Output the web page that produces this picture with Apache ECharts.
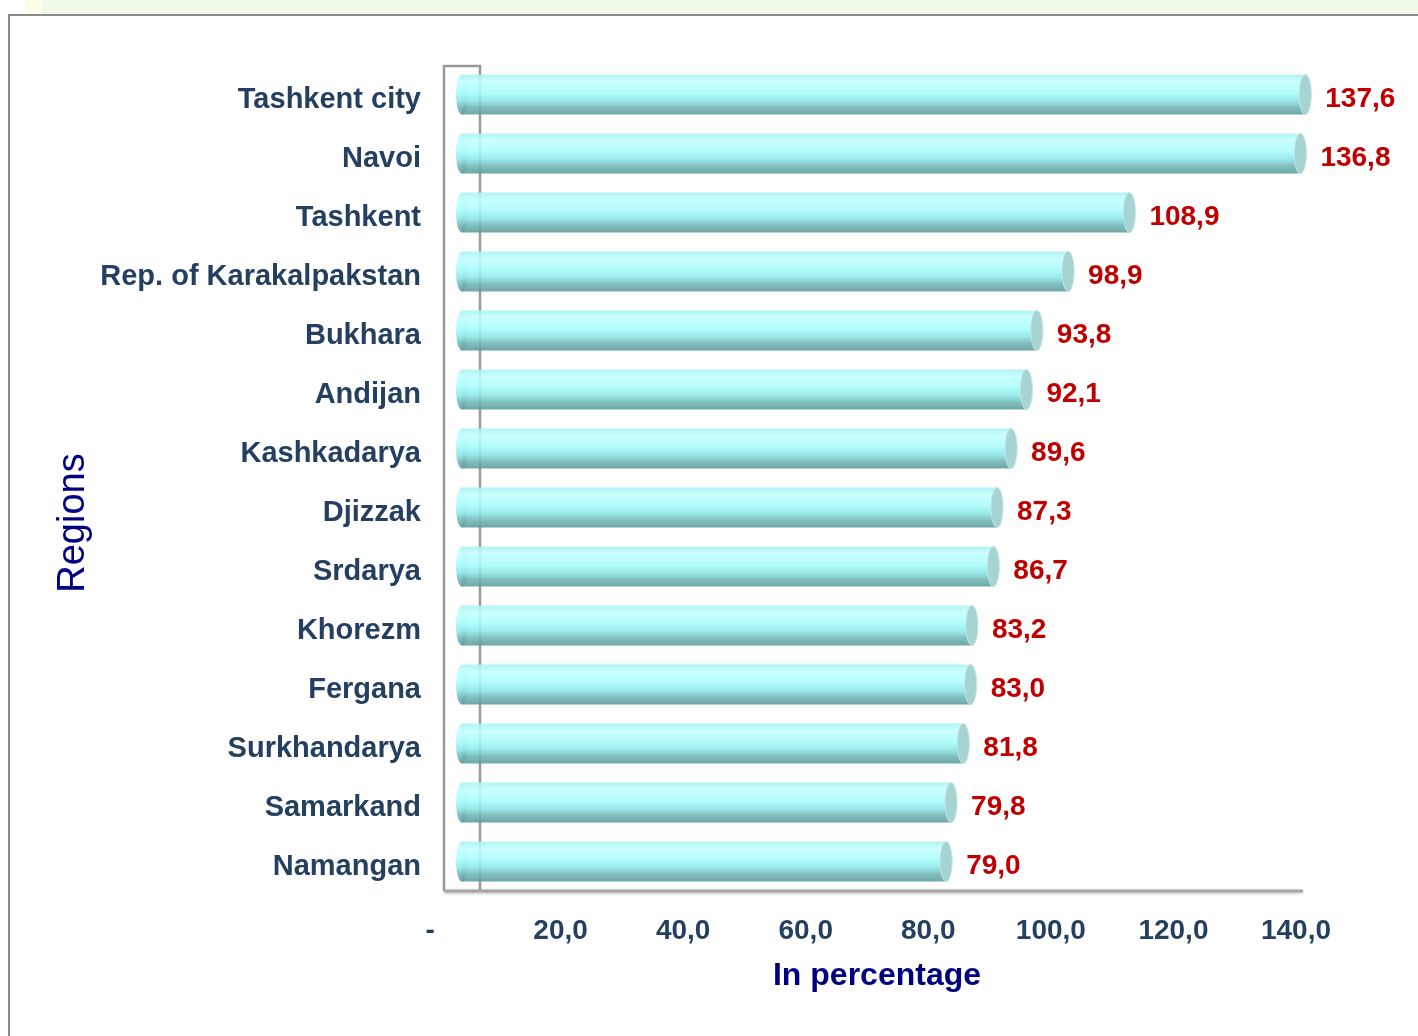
<!DOCTYPE html>
<html>
<head>
<meta charset="utf-8">
<script src="https://cdn.jsdelivr.net/npm/echarts@6/dist/echarts.min.js"></script>
<style>
  html, body { margin: 0; padding: 0; background: #fff; }
  #chart { width: 1418px; height: 1036px; }
</style>
</head>
<body>
<div id="chart"></div>
<script>
// data
const regions = [
  'Tashkent city', 'Navoi', 'Tashkent', 'Rep. of Karakalpakstan', 'Bukhara',
  'Andijan', 'Kashkadarya', 'Djizzak', 'Srdarya', 'Khorezm',
  'Fergana', 'Surkhandarya', 'Samarkand', 'Namangan'
]
const percents = [137.6, 136.8, 108.9, 98.9, 93.8, 92.1, 89.6, 87.3, 86.7, 83.2, 83.0, 81.8, 79.8, 79.0]
const xTicks = [0, 20, 40, 60, 80, 100, 120, 140]

const FONT = 'Arial, "Liberation Sans", sans-serif'
const fmt = v => v.toFixed(1).replace('.', ',')

function renderItem(params, api) {
  const idx = api.value(1)
  const val = api.value(0)
  const start = api.coord([0, idx])
  const end = api.coord([val, idx])
  const h = api.size([0, 1])[1] * 0.68
  const rx = 6
  const top = end[1] - h / 2
  const grad = () => new echarts.graphic.LinearGradient(0, 0, 0, 1, [
    { offset: 0, color: '#a8f2f2' },
    { offset: 0.18, color: '#c2ffff' },
    { offset: 0.45, color: '#a8fcfc' },
    { offset: 0.65, color: '#8ee6e6' },
    { offset: 0.82, color: '#70b6b6' },
    { offset: 1, color: '#5c9a9a' }
  ])
  return {
    type: 'group',
    children: [
      {
        type: 'ellipse',
        shape: { cx: start[0], cy: start[1], rx: rx, ry: h / 2 },
        style: { fill: grad(), opacity: 0.88 }
      },
      {
        type: 'rect',
        shape: { x: start[0], y: top, width: end[0] - start[0], height: h },
        style: { fill: grad(), opacity: 0.88 }
      },
      {
        type: 'ellipse',
        shape: { cx: end[0], cy: end[1], rx: rx, ry: h / 2 },
        style: { fill: '#a8d3d3', stroke: '#c4e4e4', lineWidth: 1 }
      },
      {
        type: 'text',
        style: {
          text: fmt(val),
          x: end[0] + 20,
          y: end[1] + 5,
          fill: '#c00000',
          font: 'bold 28px ' + FONT,
          align: 'left',
          verticalAlign: 'middle'
        }
      }
    ]
  }
}

function renderChart() {
  const chartDom = document.getElementById('chart')
  const myChart = echarts.init(chartDom)
  const option = {
    backgroundColor: '#ffffff',
    animation: false,
    grid: { left: 462, right: 98, top: 65, bottom: 145 },
    graphic: [
      { type: 'rect', z: 0, shape: { x: 0, y: 0, width: 1418, height: 14 }, style: { fill: '#f1f9ea' } },
      { type: 'rect', z: 0, shape: { x: 0, y: 0, width: 26, height: 14 }, style: { fill: '#ffffff' } },
      { type: 'rect', z: 0, shape: { x: 26, y: 0, width: 16, height: 14 }, style: { fill: '#fdfde9' } },
      {
        type: 'polyline', z: 0,
        shape: { points: [[9, 1036], [9, 15], [1418, 15]] },
        style: { stroke: '#8c8c8c', lineWidth: 2, fill: null }
      },
      {
        type: 'polyline', z: 0,
        shape: { points: [[444, 891], [444, 66], [480, 66], [480, 891]] },
        style: { stroke: '#999999', lineWidth: 2.5, fill: null }
      },
      {
        type: 'line', z: 0,
        shape: { x1: 444, y1: 891, x2: 1303, y2: 891 },
        style: { stroke: '#a6a6a6', lineWidth: 3, shadowColor: 'rgba(0,0,0,0.25)', shadowBlur: 3, shadowOffsetY: 1 }
      },
      {
        type: 'text', z: 5,
        x: 74, y: 523, rotation: Math.PI / 2,
        style: {
          text: 'Regions', fill: '#000080', font: '38px ' + FONT,
          align: 'center', verticalAlign: 'middle'
        }
      },
      {
        type: 'text', z: 5,
        x: 877, y: 976,
        style: {
          text: 'In percentage', fill: '#000080', font: 'bold 32px ' + FONT,
          align: 'center', verticalAlign: 'middle'
        }
      }
    ],
    xAxis: {
      type: 'value',
      min: xTicks[0],
      max: xTicks[xTicks.length - 1],
      interval: xTicks[1] - xTicks[0],
      splitLine: { show: false },
      axisLine: { show: false },
      axisTick: { show: false },
      axisLabel: {
        margin: 26,
        color: '#243f60',
        fontWeight: 'bold',
        fontSize: 28,
        fontFamily: FONT,
        padding: [0, 48, 0, 0],
        formatter: v => (v === 0 ? '-  ' : fmt(v))
      }
    },
    yAxis: {
      type: 'category',
      inverse: true,
      data: regions,
      axisLine: { show: false },
      axisTick: { show: false },
      splitLine: { show: false },
      axisLabel: {
        margin: 41,
        formatter: v => '{a|' + v + '}',
        rich: {
          a: {
            color: '#243f60',
            fontWeight: 'bold',
            fontSize: 29,
            fontFamily: FONT,
            padding: [10, 0, 0, 0]
          }
        }
      }
    },
    series: [
      {
        type: 'custom',
        z: 2,
        renderItem: renderItem,
        encode: { x: 0, y: 1 },
        data: percents.map((v, i) => [v, i])
      }
    ]
  }
  myChart.setOption(option)
}

document.addEventListener('DOMContentLoaded', renderChart)
</script>
</body>
</html>
